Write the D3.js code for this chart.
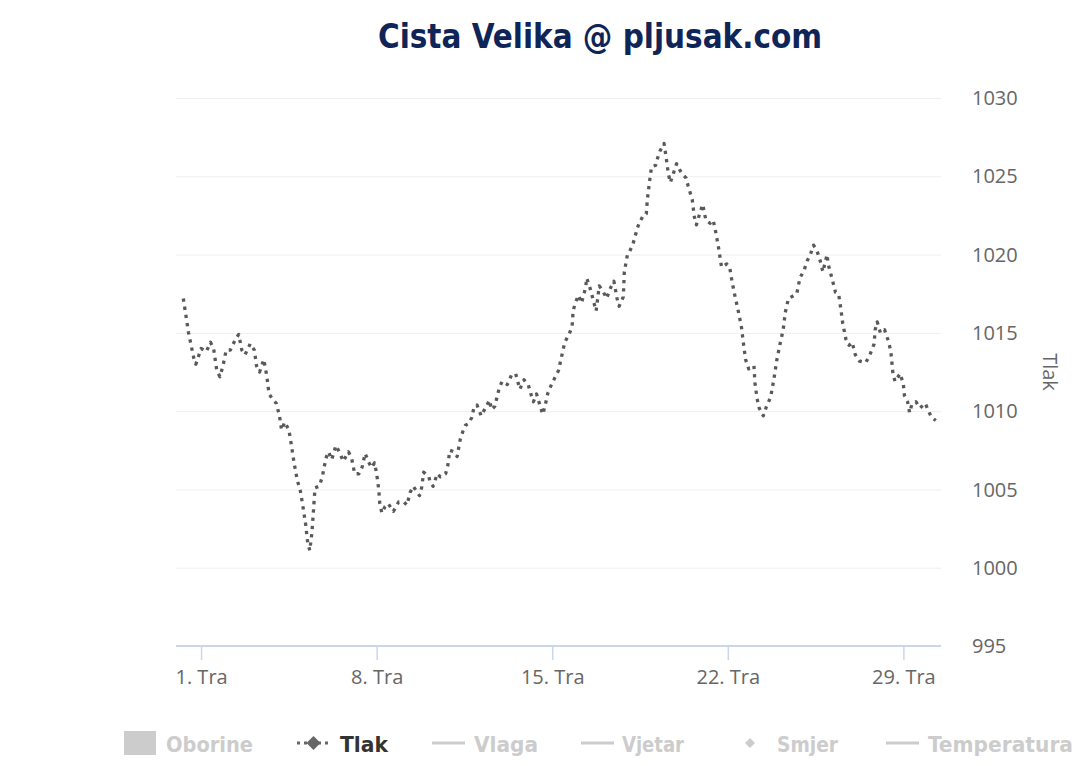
<!DOCTYPE html>
<html>
<head>
<meta charset="utf-8">
<script src="https://cdn.jsdelivr.net/npm/d3@7"></script>
<style>
  html, body { margin: 0; padding: 0; background: #ffffff; }
  svg { display: block; }
</style>
</head>
<body>
<svg id="chart" width="1086" height="766"></svg>
<script>
// ---- DATA ----
const chartTitle = "Cista Velika @ pljusak.com";
const baseDate = "2024-04-01T00:00:00Z";       // 1. Tra, 00:00
// hours since 1 April 00:00 of each pressure reading
const hours = [
  -17,-12,-7,-5,0,5,9,12,15,18,
  21,24,28,33,36,39,42,47,51,53,
  56,60,63,65,69,72,75,77,80,84,
  86,89,92,95,97,100,102,104,106,108,
  109,113,116,118,120,122,125,129,133,136,
  141,144,147,151,154,157,160,163,166,168,
  170,171,173,176,179,184,189,194,197,200,
  203,206,209,211,213,218,219,222,226,229,
  234,236,238,242,245,248,251,253,256,259,
  261,264,268,272,276,278,281,285,288,293,
  297,301,305,309,313,316,318,321,325,327,
  329,332,336,339,342,345,348,352,355,356,
  358,361,364,368,369,372,376,378,381,385,
  388,392,395,398,400,404,405,408,410,413,
  415,418,420,423,426,427,429,431,435,437,
  439,443,445,447,449,452,455,458,461,464,
  466,470,472,474,477,480,483,487,490,492,
  495,498,503,506,508,511,514,517,519,521,
  524,529,530,532,534,538,541,545,548,551,
  554,557,559,562,565,570,573,577,580,583,
  586,589,592,595,599,600,604,607,610,612,
  614,617,620,623,626,630,636,640,644,645,
  647,650,654,658,660,662,664,669,672,673,
  676,678,680,684,688,693,696,699,703
];
// Tlak (hPa)
const tlak = [
  1017.2,1015.0,1013.4,1013.0,1014.0,1013.8,1014.4,1014.0,1012.6,1012.2,
  1012.9,1013.9,1013.9,1014.6,1014.9,1013.9,1013.6,1014.3,1013.9,1012.9,
  1012.5,1013.3,1012.2,1011.1,1010.7,1010.5,1009.7,1008.8,1009.3,1008.8,
  1008.0,1006.7,1005.6,1004.9,1004.1,1002.8,1001.6,1001.1,1002.2,1004.1,
  1005.1,1005.2,1005.8,1006.5,1007.1,1007.4,1006.9,1007.8,1007.3,1006.8,
  1007.4,1007.0,1006.0,1006.0,1006.4,1007.3,1006.8,1006.4,1006.7,1006.0,
  1005.0,1004.1,1003.5,1003.9,1004.1,1003.6,1004.2,1004.2,1004.0,1004.8,
  1005.2,1004.9,1004.6,1005.1,1006.1,1005.8,1005.5,1005.2,1006.0,1005.8,
  1006.0,1006.5,1007.5,1007.4,1007.1,1008.2,1008.8,1009.1,1009.2,1009.6,
  1010.2,1010.4,1009.7,1010.2,1010.7,1010.1,1010.3,1011.4,1011.9,1011.7,
  1012.3,1012.4,1011.4,1012.0,1011.7,1011.0,1010.6,1011.1,1010.2,1009.8,
  1010.3,1011.2,1011.8,1012.2,1012.6,1013.5,1014.4,1014.9,1015.4,1016.4,
  1016.9,1017.4,1016.9,1017.9,1018.5,1017.9,1016.9,1016.4,1018.0,1017.6,
  1017.2,1017.9,1018.3,1017.2,1016.7,1017.3,1018.9,1020.0,1020.2,1020.6,
  1021.1,1021.8,1022.1,1022.5,1022.6,1023.5,1024.6,1025.6,1025.7,1026.2,
  1026.6,1027.1,1026.2,1025.2,1024.6,1025.2,1025.8,1025.4,1025.1,1024.9,
  1024.4,1023.5,1022.4,1021.9,1022.6,1023.2,1022.2,1022.0,1022.2,1021.6,
  1020.5,1019.2,1019.4,1019.1,1018.3,1017.3,1016.4,1015.4,1014.3,1013.3,
  1012.7,1012.9,1011.8,1010.8,1010.2,1009.7,1010.3,1010.9,1012.0,1013.3,
  1014.3,1015.2,1016.3,1017.2,1017.3,1017.5,1018.5,1019.0,1019.6,1020.0,
  1020.6,1020.3,1019.7,1018.9,1020.0,1019.4,1018.4,1017.6,1017.5,1016.6,
  1015.6,1014.6,1014.2,1014.4,1013.6,1013.2,1013.1,1013.6,1014.3,1015.2,
  1015.7,1015.0,1015.2,1014.4,1013.8,1012.4,1011.9,1012.4,1011.7,1011.0,
  1010.6,1009.9,1010.4,1010.6,1010.2,1010.5,1010.0,1009.6,1009.4
];
const xDomain = ["2024-03-31T00:00:00Z", "2024-04-30T12:00:00Z"];
const xTickDays = [1, 8, 15, 22, 29];
const yTicks = [995, 1000, 1005, 1010, 1015, 1020, 1025, 1030];
const yDomain = [995, 1030];
const legendItems = ["Oborine", "Tlak", "Vlaga", "Vjetar", "Smjer", "Temperatura"];
const legendSymbols = ["rect", "dotdiamond", "line", "line", "diamond", "line"];
const legendActive = [false, true, false, false, false, false];

// ---- LAYOUT ----
const plot = { left: 176, right: 941, top: 98, bottom: 646 };
const svg = d3.select("#chart");
const fontAxis = "'Open Sans', 'DejaVu Sans', sans-serif";
const fontBold = "'DejaVu Sans Condensed', 'DejaVu Sans', sans-serif";

const base = new Date(baseDate).getTime();
const data = hours.map((h, i) => ({ t: new Date(base + h * 3600e3), v: tlak[i] }));

const x = d3.scaleUtc().domain(xDomain.map(d => new Date(d))).range([plot.left, plot.right]);
const y = d3.scaleLinear().domain(yDomain).range([plot.bottom, plot.top]);

// Title
svg.append("text")
  .attr("x", 600).attr("y", 48)
  .attr("text-anchor", "middle")
  .attr("font-family", fontBold)
  .attr("font-weight", "bold")
  .attr("font-size", 33)
  .attr("fill", "#0f2457")
  .attr("textLength", 444)
  .attr("lengthAdjust", "spacingAndGlyphs")
  .text(chartTitle);

// Grid lines + y labels
const yAxis = d3.axisRight(y).tickValues(yTicks).tickSize(-(plot.right - plot.left)).tickPadding(0).tickFormat(d => d);
const gy = svg.append("g").attr("transform", `translate(${plot.right},0)`).call(yAxis);
gy.select(".domain").remove();
gy.selectAll(".tick line").attr("stroke", "#efefef").attr("stroke-width", 1)
  .filter(d => d === yDomain[0]).remove();
gy.selectAll(".tick text")
  .attr("x", 972 - plot.right)
  .attr("dy", "0.33em")
  .attr("text-anchor", "start")
  .attr("font-family", fontAxis)
  .attr("font-size", 20)
  .attr("fill", "#666666");

// Axis title
svg.append("text")
  .attr("transform", `translate(1043, ${(plot.top + plot.bottom) / 2})) rotate(90)`.replace("))", ")"))
  .attr("text-anchor", "middle")
  .attr("font-family", fontAxis)
  .attr("font-size", 20)
  .attr("fill", "#666666")
  .text("Tlak");

// X axis
const xTicks = xTickDays.map(d => new Date(Date.UTC(2024, 3, d)));
const xAxis = d3.axisBottom(x).tickValues(xTicks).tickSize(14).tickPadding(10)
  .tickFormat(d => d3.utcFormat("%-d")(d) + ". Tra");
const gx = svg.append("g").attr("transform", `translate(0,${plot.bottom})`).call(xAxis);
gx.select(".domain").attr("stroke", "#ccd6eb").attr("stroke-width", 2)
  .attr("d", `M${plot.left},0H${plot.right}`);
gx.selectAll(".tick line").attr("stroke", "#ccd6eb").attr("stroke-width", 1.5);
gx.selectAll(".tick text")
  .attr("font-family", fontAxis)
  .attr("font-size", 20)
  .attr("fill", "#666666");

// Line
const line = d3.line().x(d => x(d.t)).y(d => y(d.v));
svg.append("path")
  .datum(data)
  .attr("d", line)
  .attr("fill", "none")
  .attr("stroke", "#595959")
  .attr("stroke-width", 3.3)
  .attr("stroke-dasharray", "3.3,5")
  .attr("stroke-linejoin", "round");

// Legend
const legendX = [124, 297, 432, 581, 750, 886];
const legendTextX = [166, 340, 474, 622, 777, 928];
const legendW = [87, 48, 64, 62, 61, 145];
const lg = svg.append("g");
legendItems.forEach((name, i) => {
  const col = legendActive[i] ? "#666666" : "#cccccc";
  const sym = legendSymbols[i];
  const cy = 743;
  if (sym === "rect") {
    lg.append("rect").attr("x", legendX[i]).attr("y", cy - 12).attr("width", 32).attr("height", 24).attr("fill", col);
  } else if (sym === "line" || sym === "dotdiamond") {
    lg.append("line").attr("x1", legendX[i]).attr("x2", legendX[i] + 33).attr("y1", cy).attr("y2", cy)
      .attr("stroke", col).attr("stroke-width", 3)
      .attr("stroke-dasharray", sym === "dotdiamond" ? "3,4" : null);
  }
  if (sym === "dotdiamond" || sym === "diamond") {
    const cx = sym === "dotdiamond" ? legendX[i] + 16.5 : legendX[i];
    const r = sym === "dotdiamond" ? 7 : 5;
    lg.append("path").attr("d", `M${cx},${cy - r}L${cx + r},${cy}L${cx},${cy + r}L${cx - r},${cy}Z`).attr("fill", col);
  }
  lg.append("text")
    .attr("x", legendTextX[i]).attr("y", 752)
    .attr("font-family", fontBold)
    .attr("font-weight", "bold")
    .attr("font-size", 22)
    .attr("fill", legendActive[i] ? "#333333" : "#cccccc")
    .attr("textLength", legendW[i])
    .attr("lengthAdjust", "spacingAndGlyphs")
    .text(name);
});
</script>
</body>
</html>
